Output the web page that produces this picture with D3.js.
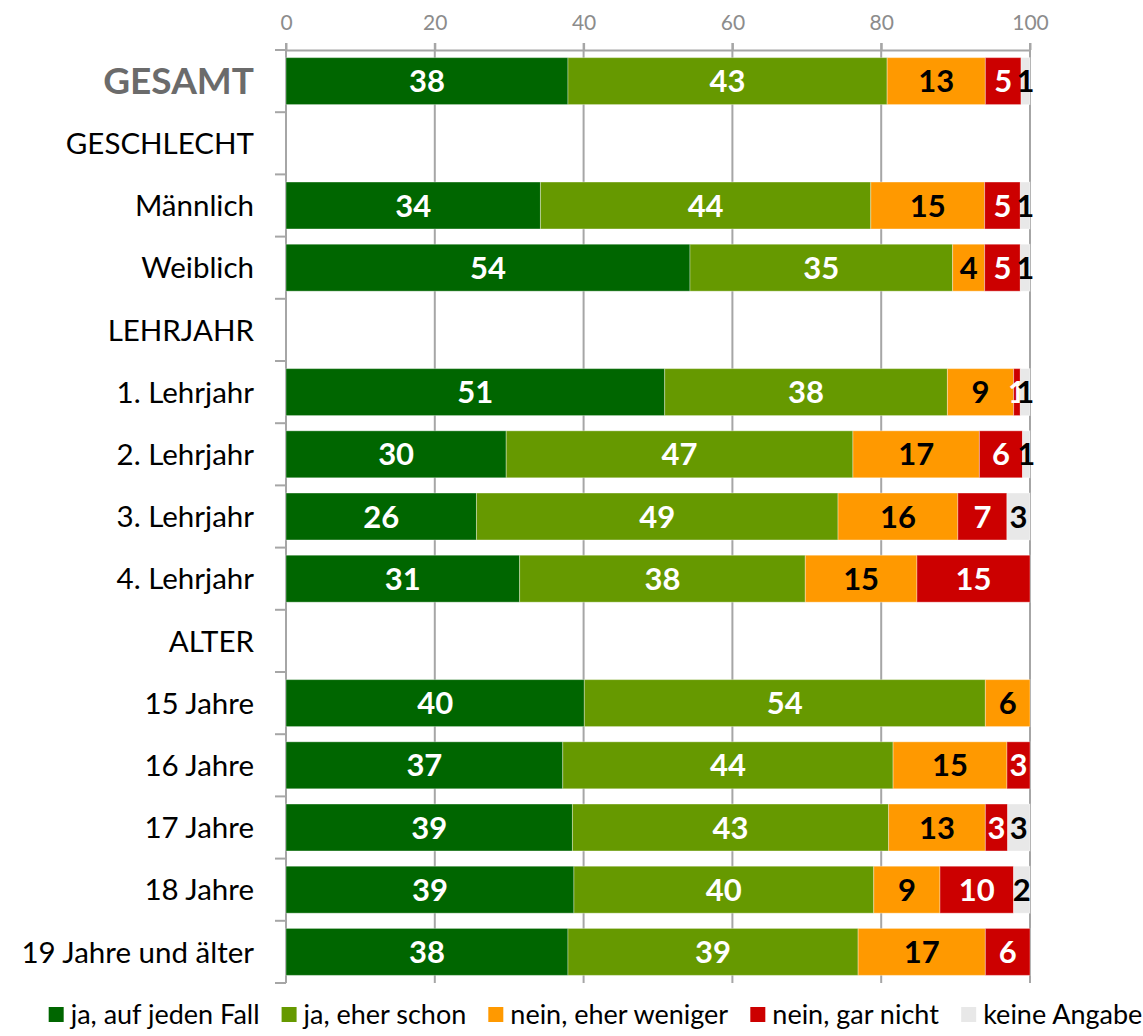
<!DOCTYPE html>
<html>
<head>
<meta charset="utf-8">
<script src="https://cdn.jsdelivr.net/npm/d3@7"></script>
<style>
  body { margin: 0; background: #fff; }
  svg { display: block; font-family: Lato, "Open Sans", sans-serif; }
</style>
</head>
<body>
<div id="chart"><svg width="1143" height="1036"></svg></div>
<script>
const categories = [
  "GESAMT", "GESCHLECHT", "Männlich", "Weiblich", "LEHRJAHR",
  "1. Lehrjahr", "2. Lehrjahr", "3. Lehrjahr", "4. Lehrjahr", "ALTER",
  "15 Jahre", "16 Jahre", "17 Jahre", "18 Jahre", "19 Jahre und älter"
];

const seriesNames = ["ja, auf jeden Fall", "ja, eher schon", "nein, eher weniger", "nein, gar nicht", "keine Angabe"];

const jaAufJedenFall = [37.9, null, 34.2, 54.3, null, 50.9, 29.6, 25.6, 31.4, null, 40.1, 37.2, 38.5, 38.7, 37.9];
const jaEherSchon    = [42.9, null, 44.4, 35.3, null, 38.0, 46.6, 48.6, 38.4, null, 53.9, 44.4, 42.5, 40.3, 39.0];
const neinEherWeniger= [13.2, null, 15.3,  4.3, null,  8.9, 17.0, 16.1, 15.0, null,  6.0, 15.3, 13.0,  8.9, 17.1];
const neinGarNicht   = [ 4.8, null,  4.8,  4.8, null,  0.9,  5.8,  6.6, 15.2, null,  0,    3.1,  3.0,  9.9,  6.0];
const keineAngabe    = [ 1.2, null,  1.3,  1.3, null,  1.3,  1.0,  3.1,  0,    null,  0,    0,    3.0,  2.2,  0];

const xTicks = [0, 20, 40, 60, 80, 100];

const colors = ["#006600", "#669900", "#ff9900", "#cc0000", "#e8e8e8"];
const labelColors = ["#ffffff", "#ffffff", "#000000", "#ffffff", "#000000"];

const svg = d3.select("svg");
const margin = { top: 50, left: 286, right: 113, bottom: 53 };
const width = 1143, height = 1036;
const innerW = width - margin.left - margin.right;
const innerH = height - margin.top - margin.bottom;

const seriesArrays = [jaAufJedenFall, jaEherSchon, neinEherWeniger, neinGarNicht, keineAngabe];
const table = categories.map((c, i) => {
  const row = { cat: c };
  seriesNames.forEach((s, j) => (row[s] = seriesArrays[j][i] || 0));
  return row;
});

const x = d3.scaleLinear().domain([0, 100]).range([margin.left, margin.left + innerW]);
const y = d3.scaleBand().domain(categories)
  .range([margin.top, margin.top + innerH])
  .paddingInner(0.245).paddingOuter(0.1225);

const stacked = d3.stack().keys(seriesNames)(table);

const gridColor = "#a6a6a6";

// gridlines
svg.append("g").selectAll("line")
  .data(xTicks.slice(1))
  .join("line")
  .attr("x1", d => x(d)).attr("x2", d => x(d))
  .attr("y1", margin.top - 7).attr("y2", margin.top + innerH)
  .attr("stroke", gridColor).attr("stroke-width", 2);

// top axis
const xAxis = svg.append("g")
  .attr("transform", `translate(0,${margin.top})`)
  .call(d3.axisTop(x).tickValues(xTicks).tickSize(7).tickSizeOuter(0).tickPadding(13));
xAxis.select(".domain").attr("stroke", gridColor).attr("stroke-width", 2);
xAxis.selectAll(".tick line").attr("stroke", gridColor).attr("stroke-width", 2);
xAxis.selectAll(".tick text")
  .attr("fill", "#8c8c8c").attr("font-size", 21).attr("font-family", "Lato, sans-serif");

// left axis line and band boundary ticks
const step = y.step();
const bounds = d3.range(categories.length + 1).map(i => margin.top + i * step);
svg.append("line")
  .attr("x1", x(0)).attr("x2", x(0))
  .attr("y1", margin.top - 7).attr("y2", margin.top + innerH)
  .attr("stroke", gridColor).attr("stroke-width", 2);
svg.append("g").selectAll("line")
  .data(bounds)
  .join("line")
  .attr("x1", x(0) - 11).attr("x2", x(0))
  .attr("y1", d => d).attr("y2", d => d)
  .attr("stroke", gridColor).attr("stroke-width", 2);

// category labels
svg.append("g").selectAll("text")
  .data(categories)
  .join("text")
  .attr("x", x(0) - 32)
  .attr("y", d => y(d) + y.bandwidth() / 2)
  .attr("dy", "0.36em")
  .attr("text-anchor", "end")
  .attr("font-size", d => (d === "GESAMT" ? 37 : 29.5))
  .attr("font-weight", d => (d === "GESAMT" ? 700 : 400))
  .attr("fill", d => (d === "GESAMT" ? "#6b6b6b" : "#000"))
  .text(d => d);

// bars
const layers = svg.append("g").selectAll("g")
  .data(stacked)
  .join("g")
  .attr("fill", (d, i) => colors[i]);

layers.selectAll("rect")
  .data(d => d.filter(p => p[1] - p[0] > 0))
  .join("rect")
  .attr("x", d => x(d[0]))
  .attr("y", d => y(d.data.cat))
  .attr("width", d => x(d[1]) - x(d[0]))
  .attr("height", y.bandwidth())
  .attr("stroke", "#ffffff").attr("stroke-opacity", 0.35).attr("stroke-width", 1);

// value labels
stacked.forEach((layer, i) => {
  svg.append("g").selectAll("text")
    .data(layer.filter(p => p[1] - p[0] > 0))
    .join("text")
    .attr("x", d => x((d[0] + d[1]) / 2))
    .attr("y", d => y(d.data.cat) + y.bandwidth() / 2)
    .attr("dy", "0.36em")
    .attr("text-anchor", "middle")
    .attr("font-size", 31)
    .attr("font-weight", 700)
    .attr("fill", labelColors[i])
    .text(d => Math.round(d.data[layer.key]));
});

// legend
const legend = svg.append("g").attr("transform", `translate(0,${height - 14})`);
const items = legend.selectAll("g").data(seriesNames).join("g");
items.append("rect")
  .attr("width", 15).attr("height", 15).attr("y", -15)
  .attr("fill", (d, i) => colors[i]);
items.append("text")
  .attr("x", 22).attr("y", -7.5).attr("dy", "0.36em")
  .attr("font-size", 27)
  .attr("fill", "#000")
  .text(d => d);
let lx = 0;
const offsets = [];
items.each(function () {
  offsets.push(lx);
  lx += this.getBBox().width + 22;
});
lx -= 22;
const startX = (width - lx) / 2 + 24;
items.attr("transform", (d, i) => `translate(${startX + offsets[i]},0)`);
</script>
</body>
</html>
